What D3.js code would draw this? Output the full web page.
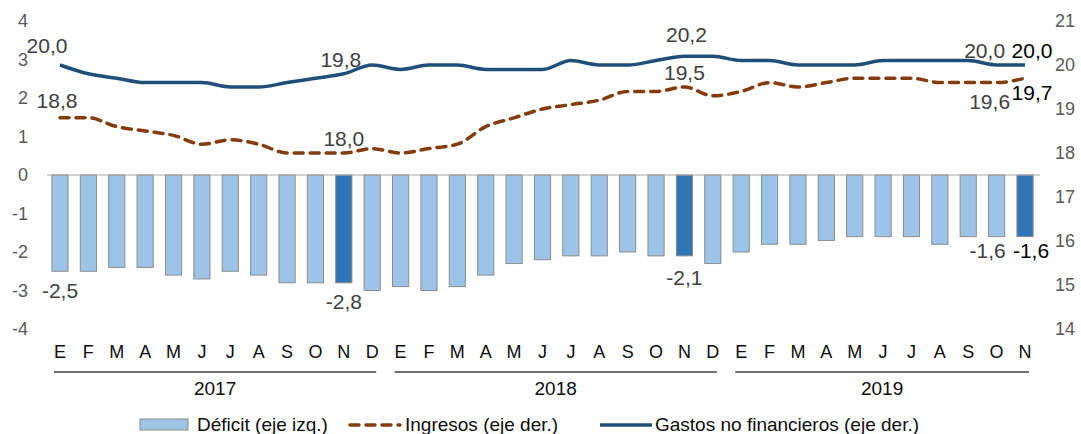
<!DOCTYPE html>
<html>
<head>
<meta charset="utf-8">
<script src="https://cdn.jsdelivr.net/npm/d3@7"></script>
<style>
  body { margin: 0; background: #fff; }
  svg { display: block; font-family: "Liberation Sans", Arial, sans-serif; }
</style>
</head>
<body>
<script>
const years = ['2017', '2018', '2019'];
const monthLetters = ['E', 'F', 'M', 'A', 'M', 'J', 'J', 'A', 'S', 'O', 'N', 'D'];
const monthsPerYear = [12, 12, 11];

const deficit = [
  -2.5, -2.5, -2.4, -2.4, -2.6, -2.7, -2.5, -2.6, -2.8, -2.8, -2.8, -3.0,
  -2.9, -3.0, -2.9, -2.6, -2.3, -2.2, -2.1, -2.1, -2.0, -2.1, -2.1, -2.3,
  -2.0, -1.8, -1.8, -1.7, -1.6, -1.6, -1.6, -1.8, -1.6, -1.6, -1.6
];
const ingresos = [
  18.8, 18.8, 18.6, 18.5, 18.4, 18.2, 18.3, 18.2, 18.0, 18.0, 18.0, 18.1,
  18.0, 18.1, 18.2, 18.6, 18.8, 19.0, 19.1, 19.2, 19.4, 19.4, 19.5, 19.3,
  19.4, 19.6, 19.5, 19.6, 19.7, 19.7, 19.7, 19.6, 19.6, 19.6, 19.7
];
const gastos = [
  20.0, 19.8, 19.7, 19.6, 19.6, 19.6, 19.5, 19.5, 19.6, 19.7, 19.8, 20.0,
  19.9, 20.0, 20.0, 19.9, 19.9, 19.9, 20.1, 20.0, 20.0, 20.1, 20.2, 20.2,
  20.1, 20.1, 20.0, 20.0, 20.0, 20.1, 20.1, 20.1, 20.1, 20.0, 20.0
];
const leftTicks = [-4, -3, -2, -1, 0, 1, 2, 3, 4];
const rightTicks = [14, 15, 16, 17, 18, 19, 20, 21];
const legendNames = ['Déficit (eje izq.)', 'Ingresos (eje der.)', 'Gastos no financieros (eje der.)'];

// build category list (one per month)
const cats = [];
years.forEach((y, yi) => {
  for (let m = 0; m < monthsPerYear[yi]; m++) {
    cats.push({ key: y + '-' + m, year: y, letter: monthLetters[m], month: m });
  }
});
const highlight = cats.map(c => c.month === 10);

const width = 1081, height = 434;
const fmt = v => v.toFixed(1).replace('.', ',');

const svg = d3.select('body').append('svg')
  .attr('width', width)
  .attr('height', height);

const x = d3.scaleBand()
  .domain(cats.map(c => c.key))
  .range([45.8, 1039.2])
  .paddingInner(0.43)
  .paddingOuter(0.215);
const cx = i => x(cats[i].key) + x.bandwidth() / 2;

const yL = d3.scaleLinear().domain([-4, 4]).range([329, 21]);
const yR = d3.scaleLinear().domain([14, 21]).range([329, 21]);

// axes
const axL = svg.append('g')
  .attr('transform', 'translate(30,0)')
  .call(d3.axisLeft(yL).tickValues(leftTicks).tickSize(0).tickPadding(2).tickFormat(d => String(d)));
const axR = svg.append('g')
  .attr('transform', 'translate(1052,0)')
  .call(d3.axisRight(yR).tickValues(rightTicks).tickSize(0).tickPadding(3).tickFormat(d => String(d)));
[axL, axR].forEach(a => {
  a.select('.domain').remove();
  a.selectAll('text')
    .attr('font-size', 18)
    .attr('font-family', '"Liberation Sans", Arial, sans-serif')
    .attr('fill', '#595959');
});

// bars
svg.append('g').selectAll('rect')
  .data(deficit)
  .enter()
  .append('rect')
    .attr('x', (d, i) => x(cats[i].key))
    .attr('y', yL(0))
    .attr('width', x.bandwidth())
    .attr('height', d => yL(d) - yL(0))
    .attr('fill', (d, i) => highlight[i] ? '#2E75B6' : '#9DC3E6')
    .attr('stroke', '#8C8C8C')
    .attr('stroke-width', 1);

// zero line
svg.append('line')
  .attr('x1', 47).attr('x2', 1040)
  .attr('y1', yL(0)).attr('y2', yL(0))
  .attr('stroke', '#A6A6A6')
  .attr('stroke-width', 1.2);

// lines
const lineR = d3.line()
  .x((d, i) => cx(i))
  .y(d => yR(d))
  .curve(d3.curveMonotoneX);

svg.append('path')
  .datum(ingresos)
  .attr('d', lineR)
  .attr('fill', 'none')
  .attr('stroke', '#843C0C')
  .attr('stroke-width', 3.5)
  .attr('stroke-dasharray', '9,7')
  .attr('stroke-linecap', 'round');

svg.append('path')
  .datum(gastos)
  .attr('d', lineR)
  .attr('fill', 'none')
  .attr('stroke', '#1F4E79')
  .attr('stroke-width', 3.5)
  .attr('stroke-linejoin', 'round');

// data labels
const labels = [
  { s: gastos, sc: yR, i: 0, dx: -13, dy: -20, c: '#404040' },
  { s: gastos, sc: yR, i: 10, dx: -3, dy: -14, c: '#404040' },
  { s: gastos, sc: yR, i: 22, dx: 2, dy: -22, c: '#404040' },
  { s: gastos, sc: yR, i: 33, dx: -12, dy: -15, c: '#404040' },
  { s: gastos, sc: yR, i: 34, dx: 7, dy: -15, c: '#000' },
  { s: ingresos, sc: yR, i: 0, dx: -3, dy: -17, c: '#404040' },
  { s: ingresos, sc: yR, i: 10, dx: 0, dy: -15, c: '#404040' },
  { s: ingresos, sc: yR, i: 22, dx: 0, dy: -15, c: '#404040' },
  { s: ingresos, sc: yR, i: 33, dx: -7, dy: 19, c: '#404040' },
  { s: ingresos, sc: yR, i: 34, dx: 7, dy: 14, c: '#000' },
  { s: deficit, sc: yL, i: 0, dx: 0, dy: 19, c: '#404040' },
  { s: deficit, sc: yL, i: 10, dx: 0, dy: 19, c: '#404040' },
  { s: deficit, sc: yL, i: 22, dx: 0, dy: 22, c: '#404040' },
  { s: deficit, sc: yL, i: 33, dx: -9, dy: 14, c: '#404040' },
  { s: deficit, sc: yL, i: 34, dx: 6, dy: 14, c: '#000' }
];
svg.append('g').selectAll('text')
  .data(labels)
  .enter()
  .append('text')
    .attr('x', d => cx(d.i) + d.dx)
    .attr('y', d => d.sc(d.s[d.i]) + d.dy)
    .attr('dy', '0.36em')
    .attr('text-anchor', 'middle')
    .attr('font-size', 21)
    .attr('fill', d => d.c)
    .text(d => fmt(d.s[d.i]));

// month letters
svg.append('g').selectAll('text')
  .data(cats)
  .enter()
  .append('text')
    .attr('x', (d, i) => cx(i))
    .attr('y', 358)
    .attr('text-anchor', 'middle')
    .attr('font-size', 18)
    .attr('fill', '#0D0D0D')
    .text(d => d.letter);

// year brackets
years.forEach(y => {
  const idx = cats.map((c, i) => c.year === y ? i : -1).filter(i => i >= 0);
  const x0 = cx(idx[0]) - 6, x1 = cx(idx[idx.length - 1]) + 4;
  svg.append('line')
    .attr('x1', x0).attr('x2', x1)
    .attr('y1', 372).attr('y2', 372)
    .attr('stroke', '#404040')
    .attr('stroke-width', 1.3);
  svg.append('text')
    .attr('x', (x0 + x1) / 2)
    .attr('y', 395)
    .attr('text-anchor', 'middle')
    .attr('font-size', 19)
    .attr('fill', '#0D0D0D')
    .text(y);
});

// legend
const leg = svg.append('g');
leg.append('rect')
  .attr('x', 140).attr('y', 419)
  .attr('width', 48).attr('height', 11)
  .attr('fill', '#9DC3E6')
  .attr('stroke', '#8C8C8C');
leg.append('line')
  .attr('x1', 350).attr('x2', 400)
  .attr('y1', 425).attr('y2', 425)
  .attr('stroke', '#843C0C')
  .attr('stroke-width', 3.5)
  .attr('stroke-dasharray', '9,7')
  .attr('stroke-linecap', 'round');
leg.append('line')
  .attr('x1', 600).attr('x2', 652)
  .attr('y1', 425).attr('y2', 425)
  .attr('stroke', '#1F4E79')
  .attr('stroke-width', 3.5);
const legX = [197, 405, 655];
leg.selectAll('text.lg')
  .data(legendNames)
  .enter()
  .append('text')
    .attr('class', 'lg')
    .attr('x', (d, i) => legX[i])
    .attr('y', 431)
    .attr('font-size', 19)
    .attr('fill', '#0D0D0D')
    .text(d => d);
</script>
</body>
</html>
